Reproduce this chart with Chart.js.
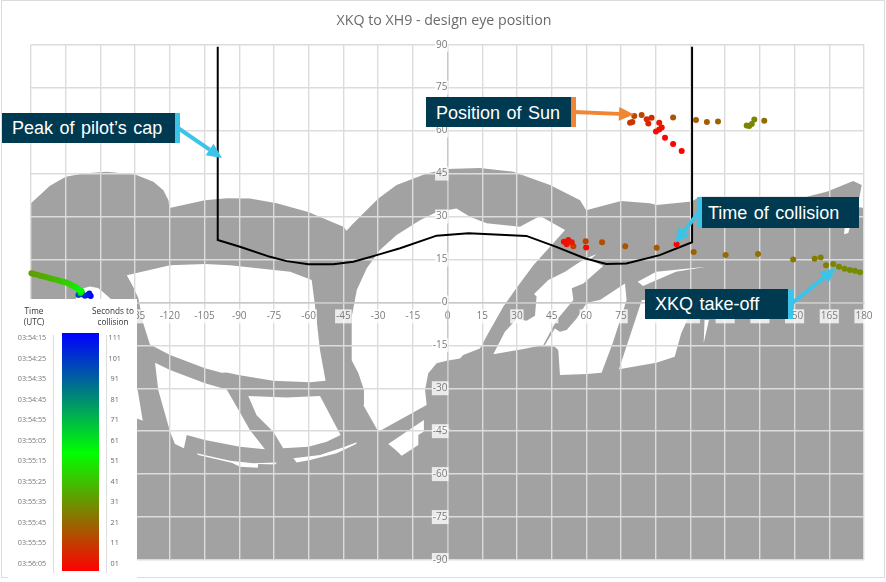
<!DOCTYPE html>
<html>
<head>
<meta charset="utf-8">
<script src="https://cdn.jsdelivr.net/npm/chart.js@4"></script>
<style>
html,body{margin:0;padding:0;background:#fff;width:886px;height:582px;overflow:hidden}
#frame{position:absolute;left:1px;top:0;width:882px;height:576px;border:1px solid #dcdcdc}
canvas{position:absolute;left:0;top:0}
.callout{position:absolute;background:#003a50;color:#fff;font:18px "Liberation Sans",Arial,sans-serif;word-spacing:1.5px;box-sizing:border-box;display:flex;align-items:center;white-space:nowrap}
#arrows{position:absolute;left:0;top:0}
#legendBox{position:absolute;left:8px;top:299px;width:129px;height:280px;background:#fff;font-family:"Open Sans",sans-serif}
#legendBox div{position:absolute}
.head{font-size:8.2px;line-height:11px;color:#333;text-align:center;width:60px}
.timeRow{font-size:7.2px;color:#777;width:40px;text-align:center;line-height:10px}
.secRow{font-size:7.2px;color:#666;width:24px;text-align:center;line-height:10px}
.rule{width:1px;background:#dedede}
#ramp{background:linear-gradient(to bottom,#0000ff 0%,#00ff00 50.5%,#ff0000 100%)}
</style>
</head>
<body>
<div id="frame"></div>
<canvas id="c" width="886" height="582"></canvas>
<svg id="arrows" width="886" height="582"></svg>
<div class="callout" style="left:2px;top:113px;width:178px;height:30px;padding-left:10px;border-right:5px solid #3cc3e8">Peak of pilot’s cap</div>
<div class="callout" style="left:426px;top:97px;width:150px;height:30px;padding-left:10px;padding-top:2px;border-right:5px solid #f08536">Position of Sun</div>
<div class="callout" style="left:697px;top:197px;width:162px;height:31px;padding-left:6px;padding-top:1px;border-left:5px solid #3cc3e8">Time of collision</div>
<div class="callout" style="left:645px;top:289px;width:148px;height:30px;padding-left:10px;padding-top:1px;border-right:5px solid #3cc3e8">XKQ take-off</div>
<div id="legendBox"></div>
<script>
const chartTitle = 'XKQ to XH9 - design eye position';
const timeLabels = ['03:54:15','03:54:25','03:54:35','03:54:45','03:54:55','03:55:05','03:55:15','03:55:25','03:55:35','03:55:45','03:55:55','03:56:05'];
const secondsLabels = ['111','101','91','81','71','61','51','41','31','21','11','01'];

// Sun position, design eye: azimuth (deg), elevation (deg), seconds to collision
const sunAzimuth = [-154.2,-154.8,-155.5,-156.7,-157.8,-158.8,-159.5,-158.6,-158.1,-158.6,-159,-159.5,-160,-160.5,-161,-161.8,-162.5,-163.2,-163.9,-164.8,-165.7,-166.6,-167.5,-168.5,-169.6,-170.7,-171.8,-172.9,-174,-175,-176.1,-177.2,-178.3,-179,-179.8,
  178.3,176.1,173.9,171.6,169.2,166.7,163.6,161.3,158.7,149.4,134.2,120.2,106.4,90.4,76.8,66.8,59.7,54.4,53.7,52.2,51.5,50.3,59.9,99,
  129.3,130.4,131.5,132.6,136.9,116.9,112.1,107.4,97.5,83.9,80.7,79.9,78.9,88.2,86.1,86.8,91.5,92.6,91.5,90.1,94,97.5,101.2];
const sunElevation = [2.2,3.1,2.6,2.3,2.8,3.1,2.6,3.3,3.8,4.1,4.3,4.6,4.9,5.2,5.4,5.7,6,6.3,6.6,6.9,7.1,7.3,7.5,7.8,8,8.2,8.4,8.7,8.9,9.1,9.3,9.6,9.8,10,10.2,
  10.5,11,11.3,11.7,12.4,13.4,13,15.7,15.2,15,16.9,16.5,17.6,19.1,19.6,21,21.3,19.6,21,21.8,20.3,21.2,19.2,20.3,
  61.8,61.6,62.3,63.9,63.4,63.2,63,63.7,64.6,65.4,65.1,63,62.7,64.5,64,62.5,62.7,61.1,60.4,59.7,57.5,55.3,52.9];
const secondsToCollision = [111,108,105,103,100,97,94,60,54,52,51,51,50,49,48,46,45,44,43,42,41,41,40,39,38,37,36,36,35,35,34,34,33,33,32,
  29,29,28,28,27,27,26,26,25,24,23,22,20,18,17,16,14,13,6,5,5,4,2,1,
  27,27,27,27,22,20,19,19,18,15,14,12,12,9,9,8,6,5,4,3,2,1,1];

// Peak of pilot's cap
const capAzimuth = [-99.3,-99.3,-89.7,-76.7,-69.5,-60.1,-49.4,-40.7,-30.6,-20.5,-4.7,9.1,34.1,47,59.3,68.6,77.3,91.7,105.7,105.7];
const capElevation = [89.3,21.8,19.4,15.9,14.4,13.3,13.3,14.2,16.5,18.9,23.3,24.1,23.2,19.4,15.4,13.4,13.6,16.5,21,89.3];

// Cockpit structure seen from the design eye (azimuth, elevation)
const cockpitOutline = [[-180,34.6],[-171.8,40.7],[-165,43.9],[-157.4,45],[-147.3,45.6],[-135,44.7],[-127.1,42.1],[-122.8,39.2],[-120.6,35.7],[-120.2,33],
  [-104.8,35.7],[-95.4,36.4],[-85.4,36.3],[-73.8,34.6],[-60.2,31.6],[-45,26.4],[-43.6,25],[-41.4,27],[-29.9,36.3],[-22,41],[-9,45],[-0.3,46.6],[14,46.9],[28.4,45.6],[44.3,41],[57.3,35.7],[59.9,32.2],
  [75,35.4],[87.4,34.6],[90.4,34],[105.5,35.2],[109,36.9],[155.2,36.9],[163.9,38.6],[175.3,42.4],[179,41],[178,36.5],[170,36],[172,34],[180,33],[180,-90],[-180,-90]];
const windowUpperLeft = [[-138.6,9.5],[-119.9,13],[-104.8,13.4],[-94,13],[-68,10.7],[-58.7,7.8],[-57.3,-0.9],[-55.1,-16.7],[-52.7,-27.4],[-59.4,-27.9],[-75.3,-27.4],[-90.4,-25.4],[-95.4,-24.5],[-97.6,-24.6],[-104.8,-23],[-119.9,-18.4],[-128.6,-14.7],[-131.5,-7.3],[-133.6,1.4],[-135.8,5.4]];
const windowSide = [[-161,0],[-160,3.5],[-157,5],[-154.5,5.5],[-151,5],[-148,3],[-144,0],[-140,-4],[-160,-10]];
const windowSideLow = [[-133.9,-30.6],[-131.7,-41.4],[-133.9,-40.7],[-150,-40],[-150,-25]];
const windowLowerLeft = [[-126.4,-21.1],[-119.9,-23.6],[-104.8,-28.3],[-95.4,-30.4],[-91.1,-36.5],[-85.4,-44.6],[-78.9,-51.3],[-89.7,-50.4],[-104.8,-48.1],[-112.7,-46.3],[-113.9,-51],[-117.8,-49.5],[-119.9,-45.2],[-125,-30.6]];
const windowLowerMid = [[-86.1,-32.7],[-69.5,-33.2],[-55.1,-32.7],[-46.2,-46.3],[-52.2,-48.7],[-60.1,-50.4],[-71,-51],[-75.3,-45.2],[-82.5,-39.4]];
const sliverA = [[-108.4,-52.7],[-94,-55.3],[-83.9,-56.2],[-73.8,-55.9],[-74.5,-56.6],[-81.8,-56.5],[-82,-57.8],[-89.7,-57.4],[-93.3,-56],[-107.7,-53.3]];
const sliverB = [[-66.6,-54.5],[-55.1,-53.3],[-45,-50.6],[-39.2,-48.9],[-39.5,-49.5],[-47.9,-52.7],[-59.4,-55.1],[-65.2,-55.9]];
const windowCentre = [[-39.2,4.3],[-34.9,11.9],[-29.2,18.3],[-22,23.5],[-11.9,28.7],[-4.7,31.6],[3.9,32.8],[9.7,29.9],[16.9,27.6],[31.3,26.4],[40,30.2],[50.8,25.3],[45,20],[37.1,13],[29.2,4.3],[24.1,-1.5],[18.4,-9.7],[14,-16.1],[6.8,-18.4],[5.4,-19.6],[-0.3,-20.4],[-4.7,-21.3],[-8.3,-24.8],[-9.7,-30.6],[-9,-35.9],[-29.9,-45.2],[-36.4,-35.9],[-36.1,-30.6],[-38.5,-24.8],[-41.4,-20.2],[-41.4,-5]];
const windowCentreLow = [[-25.6,-49.5],[-22.5,-51.5],[-19.8,-53.6],[-12.6,-49.8],[-12.6,-46.3],[-10.4,-45.2],[-10.2,-41.1]];
const specks = [[-5,-43.5],[0,-43.5],[1,-44.5],[-5,-44.5]];
const windowRightA = [[19.8,-18.1],[24.8,-10.3],[29.9,-5.8],[34.2,-6.4],[37.8,-4.7],[38.5,2],[37.4,2.9],[43.6,7.8],[50.8,10.7],[57.3,14.2],[60.9,15.7],[64.5,16.9],[61.6,15],[67.3,12.7],[58.7,6.6],[53.7,4.9],[54.4,0.8],[47.2,-6.2],[41.4,-14.9],[32.8,-16.3]];
const windowRightB = [[42.1,-14.9],[46.4,-15.5],[47.9,-16.7],[48.6,-25.4],[60.2,-25],[66.6,-24.6],[71.6,-13.8],[77.4,0.8],[76.7,6.6],[65.9,0.8],[60.2,-0.1],[55.8,-5.6],[51.5,-9.7],[48.6,-10.3],[46.4,-9.1]];
const windowRightC = [[74.1,-23.4],[90.2,-21.1],[98.2,-19],[101,-10.8],[103.9,-5.6],[106,0.8],[84,0.8]];
const sliverC = [[82.2,7.2],[90.2,10.7],[111.8,12.4],[98.7,10.7],[84.5,5.7]];
const sliverD = [[111.1,-6.2],[113,-6.2],[110.7,-14.3]];
const speckRight = [[171.6,25.8],[174,26.5],[173.2,24.2],[171.4,23.8]];
const glazing = [windowUpperLeft,windowSide,windowSideLow,windowLowerLeft,windowLowerMid,sliverA,sliverB,windowCentre,windowCentreLow,specks,windowRightA,windowRightB,windowRightC,sliverC,sliverD,speckRight];

const MASK = '#a2a2a2';
const GRID = '#dcdcdc';

function secondsColour(s){
  const lerp=(a,b,t)=>a.map((v,i)=>Math.round(v+(b[i]-v)*t));
  const c = s<=51 ? lerp([255,0,0],[0,255,0],(s-1)/50) : lerp([0,255,0],[0,0,255],(s-51)/60);
  return `rgb(${c.join(',')})`;
}
const toPoints = p => p.map(([x,y])=>({x,y}));
const polygon = (pts,colour) => ({type:'line',data:toPoints(pts),fill:'shape',backgroundColor:colour,borderColor:'transparent',borderWidth:0,pointRadius:0,tension:0});

const datasets = [
  {type:'scatter',label:'Sun',data:sunAzimuth.map((x,i)=>({x,y:sunElevation[i]})),
   backgroundColor:secondsToCollision.map(secondsColour),pointRadius:3,borderWidth:0,clip:false},
  {type:'line',label:'Cap',data:capAzimuth.map((x,i)=>({x,y:capElevation[i]})),borderColor:'#000',borderWidth:2,pointRadius:0,tension:0,fill:false},
  ...glazing.map(g=>polygon(g,'#fff')),
  polygon(cockpitOutline,MASK)
];

const tickStyle = {font:{family:'"Open Sans",sans-serif',size:10},color:'#7b7b7b',padding:8,autoSkip:false,maxRotation:0,stepSize:15,
  showLabelBackdrop:true,backdropColor:'rgba(255,255,255,0.78)',backdropPadding:1};

new Chart(document.getElementById('c'),{
  type:'line',
  data:{datasets},
  options:{
    responsive:false,animation:false,events:[],
    layout:{padding:{left:31,right:22,top:0,bottom:22}},
    plugins:{
      legend:{display:false},tooltip:{enabled:false},
      filler:{drawTime:'beforeDraw'},
      title:{display:true,text:chartTitle,color:'#6a6a6a',font:{family:'"Open Sans",sans-serif',size:14.2,weight:'normal'},padding:{top:12,bottom:15.66}}
    },
    scales:{
      x:{type:'linear',min:-180,max:180,position:{y:0},grid:{color:GRID,lineWidth:1.4,drawTicks:false},border:{color:'#c8c8c8',width:1.4},ticks:tickStyle},
      y:{type:'linear',min:-90,max:90,position:{x:0},grid:{color:GRID,lineWidth:1.4,drawTicks:false},border:{color:'#c8c8c8',width:1.4},ticks:tickStyle}
    }
  },
  plugins:[{id:'titleCentre',afterLayout(ch){ch.titleBlock.left-=7;}}]
});

// callout arrows
function arrow(x1,y1,x2,y2,col){
  const a=Math.atan2(y2-y1,x2-x1),L=15,W=7,bx=x2-L*Math.cos(a),by=y2-L*Math.sin(a),nx=-Math.sin(a),ny=Math.cos(a);
  return `<line x1="${x1}" y1="${y1}" x2="${bx}" y2="${by}" stroke="${col}" stroke-width="4"/>`+
   `<polygon fill="${col}" points="${x2},${y2} ${bx+nx*W},${by+ny*W} ${bx-nx*W},${by-ny*W}"/>`;
}
document.getElementById('arrows').innerHTML =
  arrow(178,128,222,158,'#3cc3e8')+arrow(574,112,634,114.5,'#f08536')+
  arrow(699,212,675,243,'#3cc3e8')+arrow(791,304,836,268,'#3cc3e8');

// time / seconds legend
const box=document.getElementById('legendBox'); let html='';
const Y0=38.3, STEP=20.5;
html+=`<div class="head" style="left:-4px;top:6px">Time<br>(UTC)</div>`;
html+=`<div class="head" style="left:75px;top:6px">Seconds to<br>collision</div>`;
timeLabels.forEach((t,i)=>{html+=`<div class="timeRow" style="left:4px;top:${Y0+i*STEP-5}px">${t}</div>`;});
secondsLabels.forEach((t,i)=>{html+=`<div class="secRow" style="left:94.7px;top:${Y0+i*STEP-5}px">${t}</div>`;});
html+=`<div class="rule" style="left:45px;top:36px;height:238px"></div>`;
html+=`<div class="rule" style="left:97.5px;top:36px;height:238px"></div>`;
html+=`<div id="ramp" style="left:54px;top:34px;width:37px;height:238px"></div>`;
box.innerHTML=html;
</script>
</body>
</html>
